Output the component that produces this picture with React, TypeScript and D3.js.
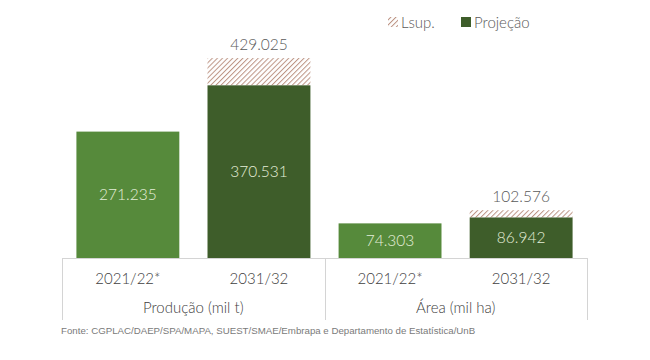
import React from "react";
import * as d3 from "d3";

const groups = ["Produção (mil t)", "Área (mil ha)"];
const categories = ["2021/22*", "2031/32", "2021/22*", "2031/32"];
const projecao = [271.235, 370.531, 74.303, 86.942];
const lsup = [null, 429.025, null, 102.576];
const projLabels = ["271.235", "370.531", "74.303", "86.942"];
const lsupLabels = [null, "429.025", null, "102.576"];
const isForecast = [false, true, false, true];

const W = 650;
const H = 360;
const baseY = 258;
const axisLeft = 62;
const axisRight = 587;

const lightGreen = "#568a3b";
const darkGreen = "#3e5d2a";
const hatchColor = "#bd9484";
const font = "Lato, 'Open Sans', sans-serif";

export default function App() {
  const x = d3
    .scaleBand<number>()
    .domain(d3.range(categories.length))
    .range([axisLeft, axisRight])
    .paddingInner(0.215)
    .paddingOuter(0.11);

  const y = d3.scaleLinear().domain([0, 500]).range([baseY, baseY - 233]);

  const groupX = d3
    .scaleBand<number>()
    .domain(d3.range(groups.length))
    .range([axisLeft, axisRight]);

  return (
    <svg
      width={W}
      height={H}
      style={{ position: "absolute", left: 0, top: 0, background: "#fff" }}
    >
      <defs>
        <pattern
          id="hatch"
          patternUnits="userSpaceOnUse"
          width={3.6}
          height={3.6}
          patternTransform="rotate(45)"
        >
          <rect width={3.6} height={3.6} fill="#fff" />
          <line x1={0} y1={0} x2={0} y2={3.6} stroke={hatchColor} strokeWidth={2} />
        </pattern>
      </defs>

      {/* legend */}
      <g fontFamily={font} fontWeight={300} fontSize={15} fill="#595959">
        <rect x={388} y={17} width={10} height={10} fill="url(#hatch)" />
        <text x={401} y={28}>Lsup.</text>
        <rect x={461} y={17} width={10} height={10} fill={darkGreen} />
        <text x={474} y={28}>Projeção</text>
      </g>

      {/* bars */}
      {categories.map((c, i) => {
        const bx = x(i)!;
        const bw = x.bandwidth();
        const top = y(projecao[i]);
        const up = lsup[i];
        return (
          <g key={i} fontFamily={font} fontWeight={300}>
            {up != null && (
              <rect
                x={bx}
                y={y(up)}
                width={bw}
                height={top - y(up)}
                fill="url(#hatch)"
              />
            )}
            <rect
              x={bx}
              y={top}
              width={bw}
              height={baseY - top}
              fill={isForecast[i] ? darkGreen : lightGreen}
            />
            <text
              x={bx + bw / 2}
              y={(top + baseY) / 2 + 5.5}
              textAnchor="middle"
              fontSize={15.5}
              fill="#e4eed9"
            >
              {projLabels[i]}
            </text>
            {up != null && (
              <text
                x={bx + bw / 2}
                y={y(up) - 8}
                textAnchor="middle"
                fontSize={15.5}
                fill="#595959"
              >
                {lsupLabels[i]}
              </text>
            )}
            <text
              x={bx + bw / 2}
              y={284}
              textAnchor="middle"
              fontSize={15}
              fill="#404040"
            >
              {c}
            </text>
          </g>
        );
      })}

      {/* axis frame */}
      <g stroke="#d4d4d4" strokeWidth={1} fill="none">
        <line x1={axisLeft} x2={axisRight} y1={baseY + 0.5} y2={baseY + 0.5} />
        {d3.range(groups.length + 1).map((k) => {
          const gx = k < groups.length ? groupX(k)! : axisRight;
          return (
            <line
              key={k}
              x1={Math.round(gx) + 0.5}
              x2={Math.round(gx) + 0.5}
              y1={baseY}
              y2={320}
            />
          );
        })}
      </g>

      {groups.map((g, k) => (
        <text
          key={g}
          x={groupX(k)! + groupX.bandwidth() / 2}
          y={313}
          textAnchor="middle"
          fontFamily={font}
          fontWeight={300}
          fontSize={15}
          fill="#404040"
        >
          {g}
        </text>
      ))}

      <text
        x={61}
        y={334}
        fontFamily="'Liberation Sans', Arial, sans-serif"
        fontSize={9.7}
        fill="#7a7a7a"
      >
        Fonte: CGPLAC/DAEP/SPA/MAPA, SUEST/SMAE/Embrapa e Departamento de Estatística/UnB
      </text>
    </svg>
  );
}
